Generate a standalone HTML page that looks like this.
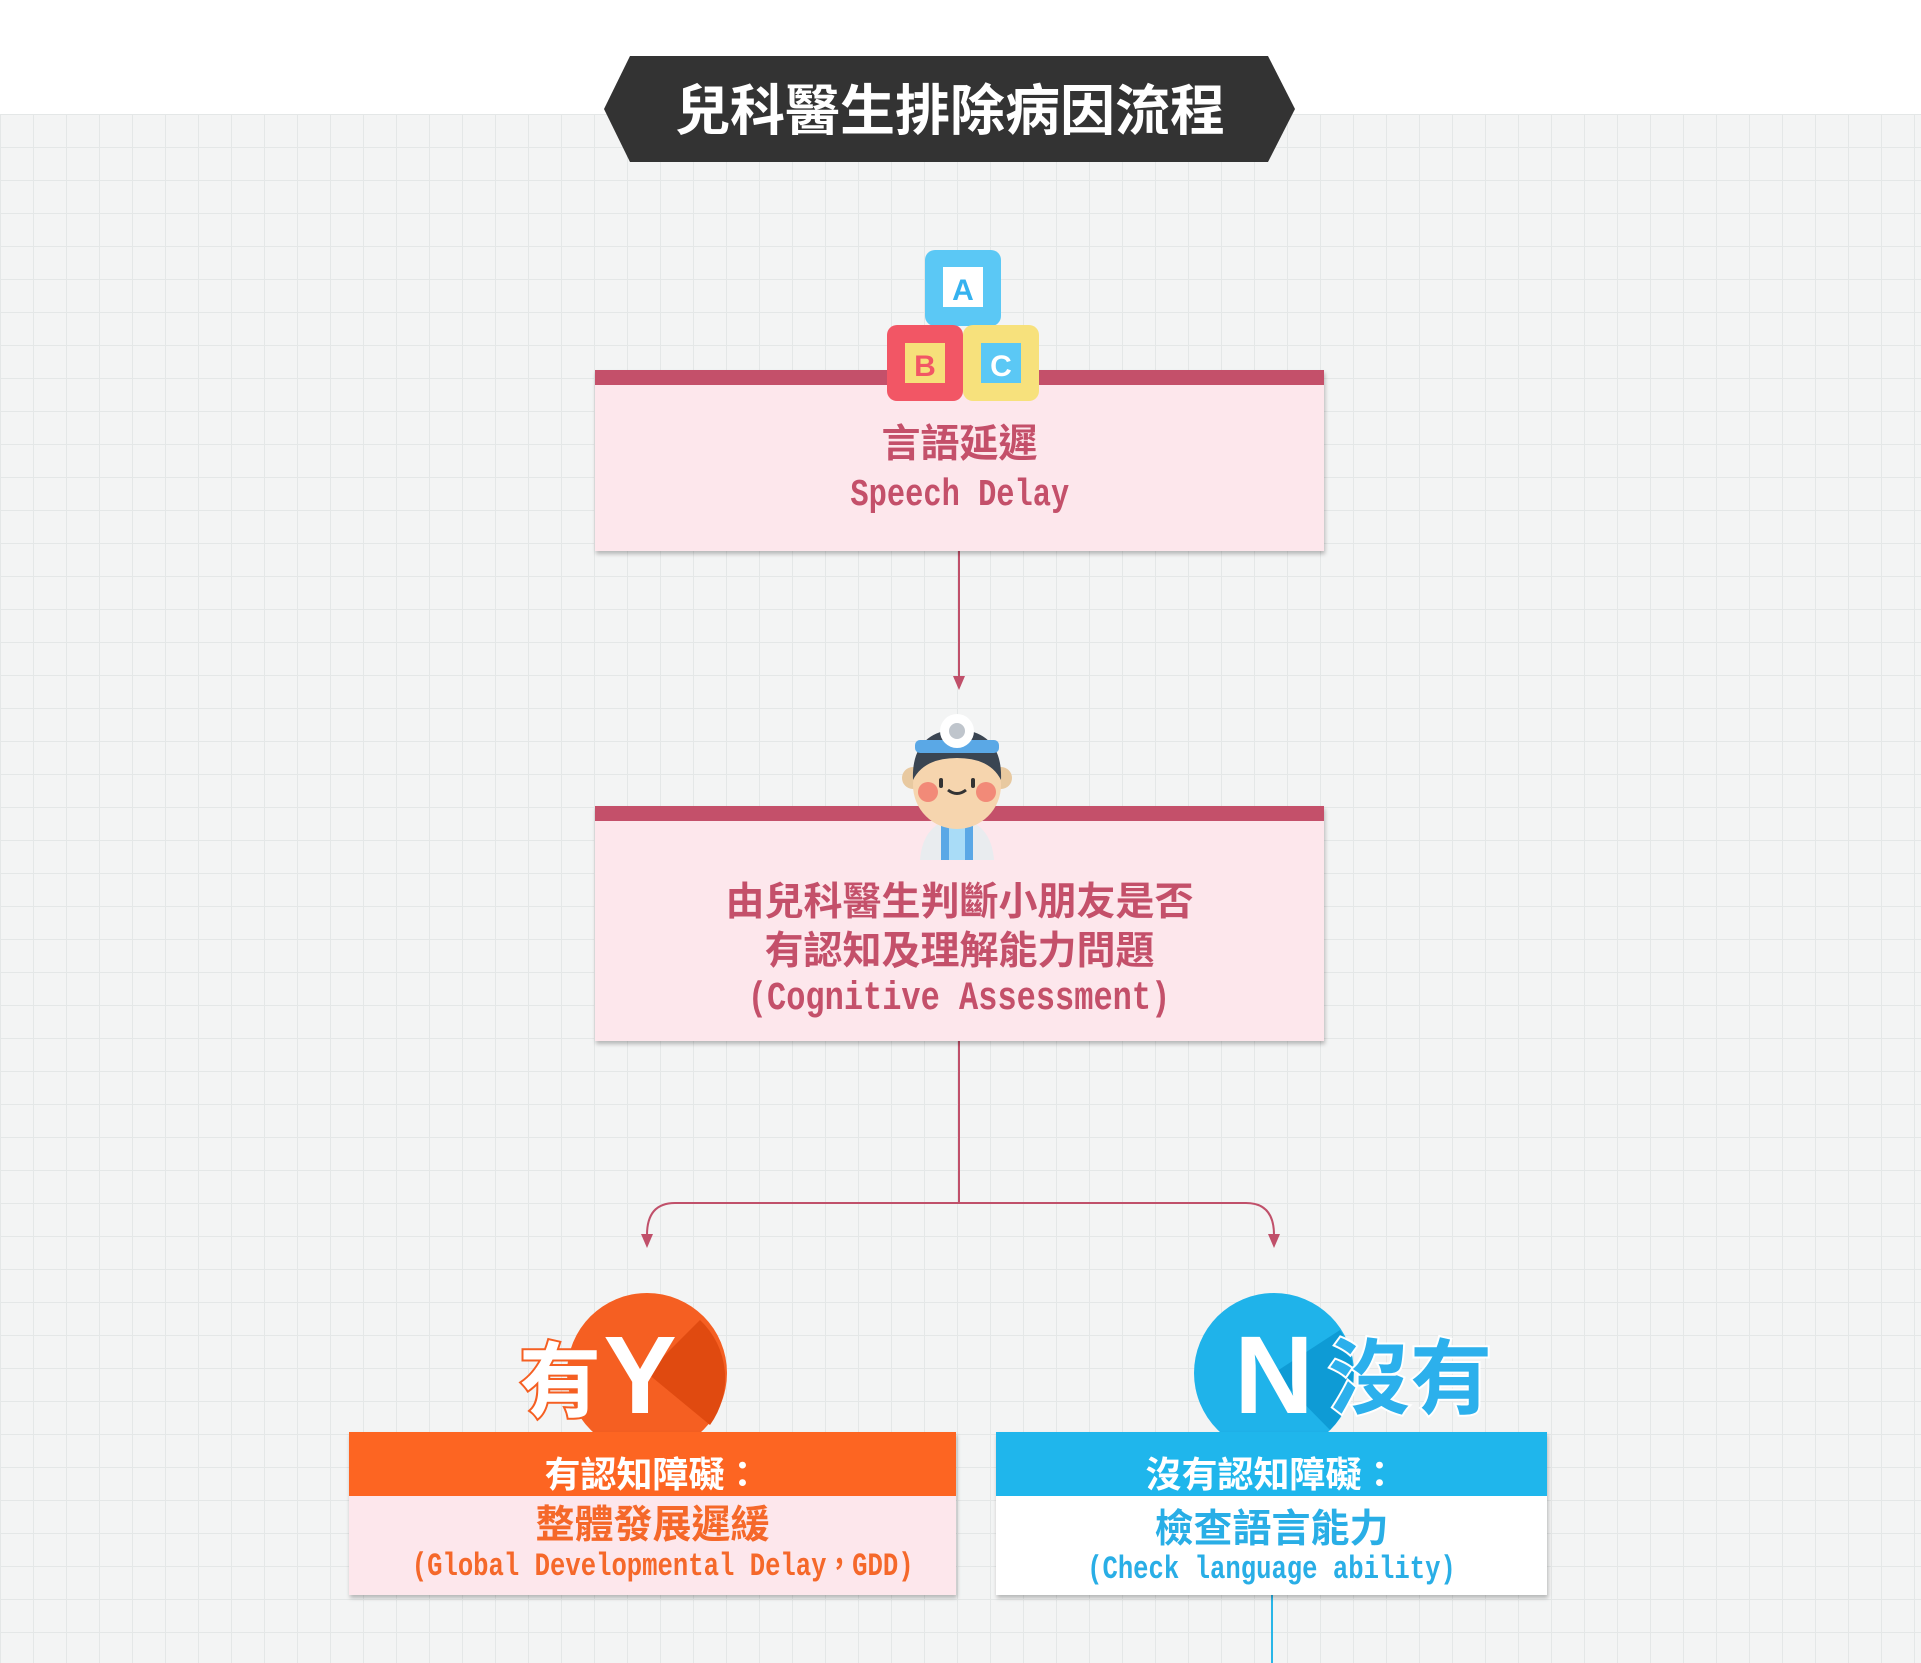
<!DOCTYPE html>
<html><head><meta charset="utf-8"><style>
html,body{margin:0;padding:0}
body{width:1921px;height:1663px;position:relative;overflow:hidden;background:#fff;font-family:"Liberation Sans","Noto Sans CJK TC",sans-serif}
.grid{position:absolute;left:0;top:114px;width:1921px;height:1549px;background-color:#f3f4f4;
background-image:linear-gradient(#e4e7e7 1px,transparent 1px),linear-gradient(90deg,#e4e7e7 1px,transparent 1px);background-size:33px 33px}
.box{position:absolute;box-shadow:1px 3px 4px rgba(0,0,0,.25)}
.t{position:absolute;left:0;right:0;text-align:center;font-weight:bold;white-space:nowrap}
.mono{font-family:"Liberation Mono","Noto Sans CJK TC",monospace;font-weight:bold}
.mono span{display:inline-block;transform:scaleX(0.8)}
</style></head><body>
<div class="grid"></div>
<svg style="position:absolute;left:0;top:0" width="1921" height="1663">
<polygon points="630,56 1268,56 1295,109 1268,162 630,162 604,109" fill="#333"/>
<text x="950" y="130" text-anchor="middle" font-size="55" font-weight="bold" fill="#fff" font-family="Liberation Sans,Noto Sans CJK TC,sans-serif">兒科醫生排除病因流程</text>
<g stroke="#c0506a" stroke-width="2" fill="none">
<line x1="959" y1="551" x2="959" y2="682"/>
<path d="M959 1041 V1203 H675 Q647 1203 647 1235 M959 1203 H1246 Q1274 1203 1274 1235"/>
</g>
<g fill="#c0506a">
<polygon points="953,676 965,676 959,690"/>
<polygon points="641,1234 653,1234 647,1248"/>
<polygon points="1268,1234 1280,1234 1274,1248"/>
</g>
<line x1="1272" y1="1595" x2="1272" y2="1663" stroke="#29b6e8" stroke-width="2"/>
</svg>

<div class="box" style="left:595px;top:370px;width:729px;height:181px;background:#fde7ec;border-top:15px solid #c4506a;box-sizing:border-box">
<div class="t" style="top:28px;font-size:39px;color:#c4506a">言語延遲</div>
<div class="t mono" style="top:89px;font-size:38px;color:#c4506a"><span>Speech Delay</span></div>
</div>
<!-- ABC blocks -->
<svg style="position:absolute;left:880px;top:245px" width="170" height="160">
<rect x="45" y="5" width="76" height="76" rx="10" fill="#5bc8f5"/><rect x="63" y="22" width="40" height="40" fill="#fff"/>
<text x="83" y="55" text-anchor="middle" font-size="30" font-weight="bold" fill="#35b2ef" font-family="Liberation Sans">A</text>
<rect x="7" y="80" width="76" height="76" rx="10" fill="#f25665"/><rect x="25" y="98" width="40" height="40" fill="#f6e07a"/>
<text x="45" y="131" text-anchor="middle" font-size="30" font-weight="bold" fill="#f25665" font-family="Liberation Sans">B</text>
<rect x="83" y="80" width="76" height="76" rx="10" fill="#f7e17c"/><rect x="101" y="98" width="40" height="40" fill="#5bc8f5"/>
<text x="121" y="131" text-anchor="middle" font-size="30" font-weight="bold" fill="#fff" font-family="Liberation Sans">C</text>
</svg>

<div class="box" style="left:595px;top:806px;width:729px;height:235px;background:#fde7ec;border-top:15px solid #c4506a;box-sizing:border-box">
<div class="t" style="top:50px;font-size:39px;color:#c4506a">由兒科醫生判斷小朋友是否</div>
<div class="t" style="top:99px;font-size:39px;color:#c4506a">有認知及理解能力問題</div>
<div class="t mono" style="top:156px;font-size:40px;color:#c4506a"><span>(Cognitive Assessment)</span></div>
</div>
<!-- doctor -->
<svg style="position:absolute;left:885px;top:710px" width="145" height="150">
<path d="M35 150 Q38 112 72 108 Q106 112 109 150Z" fill="#e9ecef"/>
<rect x="56" y="112" width="32" height="38" fill="#5aa8e6"/><rect x="64" y="115" width="16" height="35" fill="#a9dcf7"/>
<circle cx="28" cy="68" r="11" fill="#e8c9a0"/><circle cx="116" cy="68" r="11" fill="#e8c9a0"/>
<circle cx="72" cy="75" r="44" fill="#f6d5ae"/>
<path d="M28 70 Q26 22 72 19 Q118 22 116 70 Q105 48 72 48 Q39 48 28 70Z" fill="#3a4552"/>
<rect x="30" y="30" width="84" height="13" rx="5" fill="#5aa8e6"/>
<circle cx="72" cy="21" r="17" fill="#fff"/><circle cx="72" cy="21" r="8" fill="#bfc5cc"/>
<circle cx="43" cy="82" r="10" fill="#f28a78"/><circle cx="101" cy="82" r="10" fill="#f28a78"/>
<rect x="54" y="68" width="4" height="10" rx="2" fill="#333"/><rect x="86" y="68" width="4" height="10" rx="2" fill="#333"/>
<path d="M63 80 Q72 87 81 80" stroke="#333" stroke-width="3" fill="none"/>
</svg>

<!-- Y -->
<svg style="position:absolute;left:500px;top:1285px" width="260" height="150">
<circle cx="147" cy="88" r="80" fill="#f55f22"/>
<path d="M147 88 L210 140 A80 80 0 0 0 200 35Z" fill="#e04a10"/>
<text x="60" y="125" text-anchor="middle" font-size="82" font-weight="bold" fill="#fff" stroke="#f55f22" stroke-width="4" paint-order="stroke" font-family="Liberation Sans,Noto Sans CJK TC,sans-serif">有</text>
<text x="140" y="128" text-anchor="middle" font-size="110" font-weight="bold" fill="#fff" font-family="Liberation Sans">Y</text>
</svg>
<div class="box" style="left:349px;top:1432px;width:607px;height:163px;background:#fde7ec">
<div style="position:absolute;left:0;top:0;right:0;height:64px;background:#fd6522"></div>
<div class="t" style="top:14px;font-size:36px;color:#fff">有認知障礙：</div>
<div class="t" style="top:62px;font-size:39px;color:#f5682a">整體發展遲緩</div>
<div class="t mono" style="top:107px;font-size:32px;color:#f5682a"><span>(Global Developmental Delay，GDD)</span></div>
</div>

<!-- N -->
<svg style="position:absolute;left:1180px;top:1285px" width="320" height="150">
<circle cx="94" cy="88" r="80" fill="#1fb3ea"/>
<path d="M94 88 L150 145 A80 80 0 0 0 160 45Z" fill="#0e9bd5"/>
<text x="94" y="128" text-anchor="middle" font-size="110" font-weight="bold" fill="#fff" font-family="Liberation Sans">N</text>
<text x="230" y="122" text-anchor="middle" font-size="82" font-weight="bold" fill="#2cb0ec" stroke="#fff" stroke-width="4" paint-order="stroke" font-family="Liberation Sans,Noto Sans CJK TC,sans-serif">沒有</text>
</svg>
<div class="box" style="left:996px;top:1432px;width:551px;height:163px;background:#fff">
<div style="position:absolute;left:0;top:0;right:0;height:64px;background:#1fb6ec"></div>
<div class="t" style="top:14px;font-size:36px;color:#fff">沒有認知障礙：</div>
<div class="t" style="top:66px;font-size:39px;color:#29aee6">檢查語言能力</div>
<div class="t mono" style="top:119px;font-size:32px;color:#29aee6"><span>(Check language ability)</span></div>
</div>
</body></html>
